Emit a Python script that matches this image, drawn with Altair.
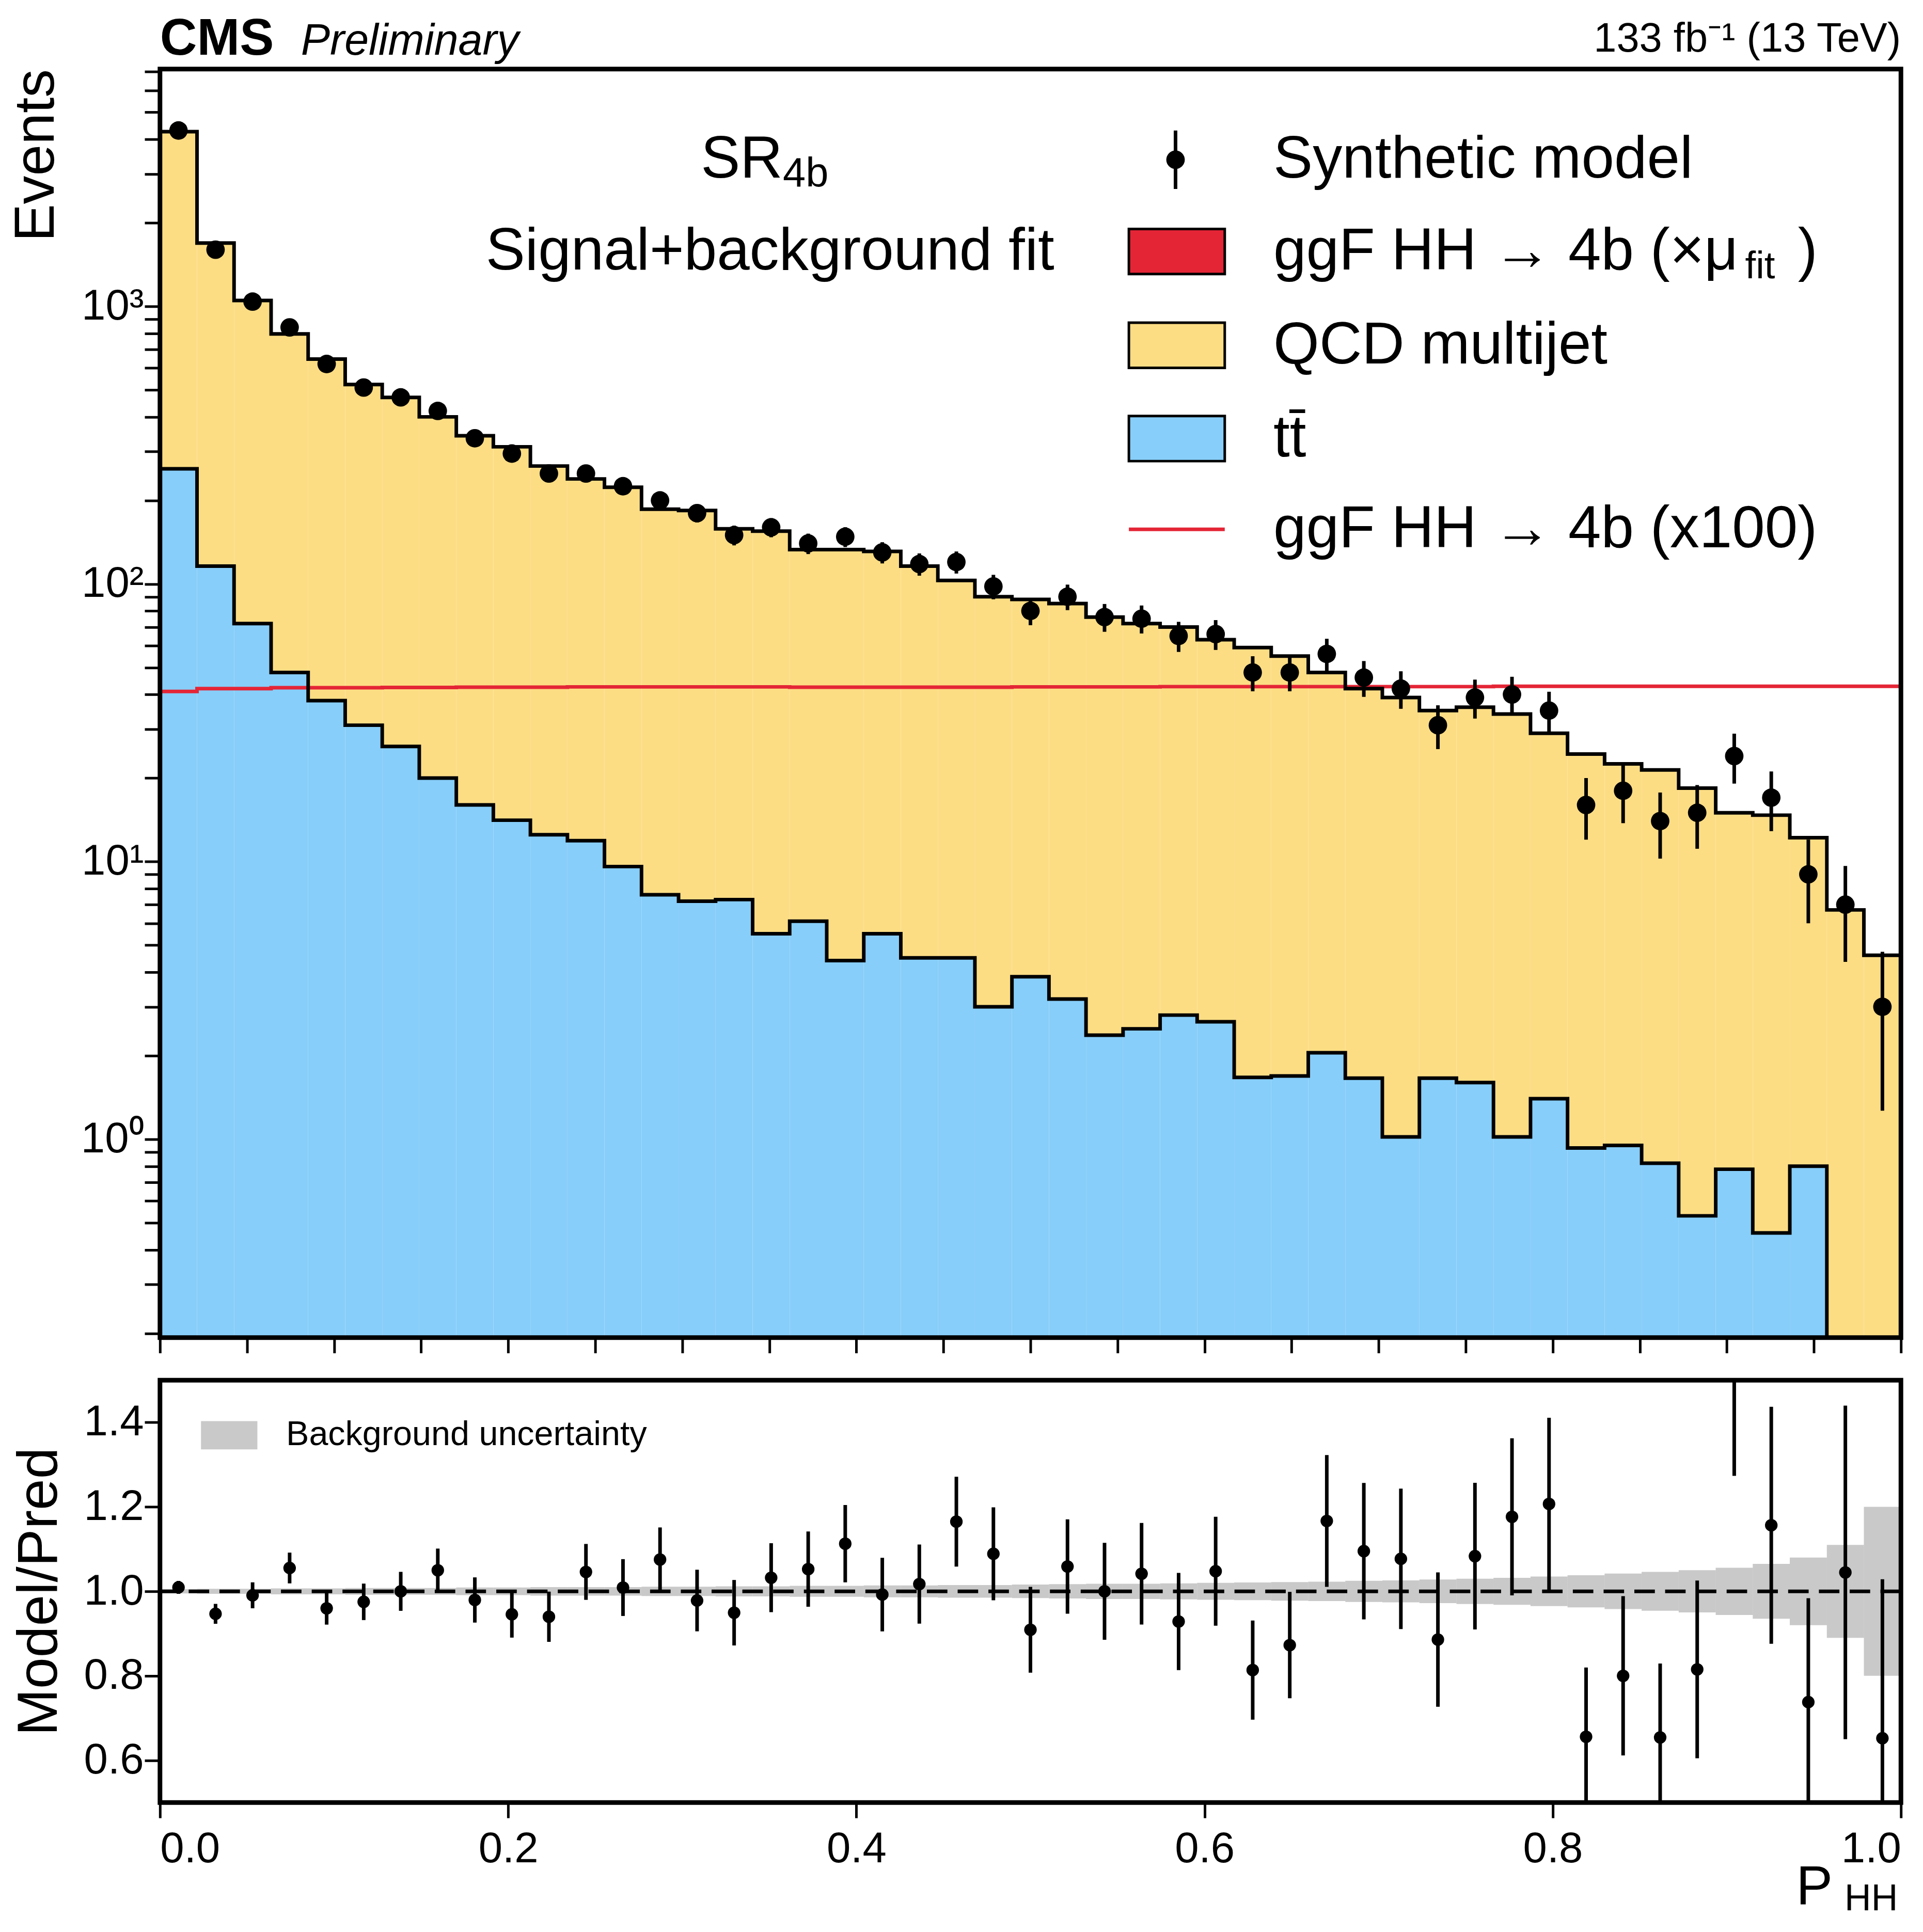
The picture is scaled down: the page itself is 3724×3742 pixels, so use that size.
import altair as alt
import numpy as np
import pandas as pd

FONT = "Liberation Sans"
NB = 47
edges = np.linspace(0, 1, NB + 1)

# values
data_obs = [4300, 1600, 1040, 840, 620, 510, 470, 420, 335, 295,
            250, 250, 225, 200, 180, 150, 160, 140, 148, 130,
            118, 120, 98, 80, 90, 76, 75, 65, 66, 48,
            48, 56, 46, 42, 31, 39, 40, 35, 16, 18,
            14, 15, 24, 17, 9, 7, 3]
total_bkg = [4260, 1690, 1050, 796, 646, 523, 470, 400, 342, 312,
             266, 239, 223, 186, 184, 158, 155, 133, 133, 131,
             116, 103, 90, 88, 85, 76, 72, 70, 63, 59,
             55, 48, 42, 39, 35, 36, 34, 29, 24.4, 22.5,
             21.4, 18.4, 15, 14.7, 12.2, 6.7, 4.6]
ttbar = [260, 116, 72, 48, 38, 31, 26, 20, 16, 14.1,
         12.5, 11.9, 9.6, 7.6, 7.2, 7.3, 5.5, 6.1, 4.4, 5.5,
         4.5, 4.5, 3.0, 3.85, 3.2, 2.37, 2.5, 2.8, 2.65, 1.67,
         1.69, 2.05, 1.66, 1.02, 1.66, 1.6, 1.02, 1.4, 0.93, 0.95,
         0.82, 0.53, 0.78, 0.46, 0.8, 0.15, 0.1]
sig100 = [41, 42, 42, 42.3, 42.3, 42.3, 42.4, 42.4, 42.5, 42.5,
          42.5, 42.6, 42.6, 42.6, 42.6, 42.6, 42.6, 42.5, 42.5, 42.5,
          42.5, 42.5, 42.5, 42.6, 42.6, 42.6, 42.6, 42.7, 42.7, 42.7,
          42.7, 42.7, 42.7, 42.7, 42.7, 42.7, 42.8, 42.8, 42.8, 42.8,
          42.8, 42.8, 42.8, 42.8, 42.8, 42.8, 42.8]
bkg_unc = [0.005, 0.006, 0.006, 0.007, 0.007, 0.008, 0.008, 0.008, 0.009, 0.009,
           0.01, 0.01, 0.01, 0.011, 0.011, 0.012, 0.012, 0.013, 0.013, 0.014,
           0.014, 0.015, 0.015, 0.016, 0.017, 0.018, 0.018, 0.019, 0.02, 0.021,
           0.022, 0.023, 0.025, 0.026, 0.028, 0.03, 0.032, 0.035, 0.038, 0.042,
           0.046, 0.05, 0.056, 0.065, 0.08, 0.11, 0.2]

YMIN, YMAX = 0.193, 7160
W, H1, H2 = 3396, 2475, 824
ax = dict(labelFont=FONT, titleFont=FONT, labelFontSize=84, tickColor="black",
          domain=False, grid=False, tickWidth=5, tickSize=30, labelColor="black",
          titleColor="black")

lo = edges[:-1]
hi = edges[1:]
ctr = (lo + hi) / 2
obs = np.array(data_obs, float)
tot = np.array(total_bkg, float)
df = pd.DataFrame(dict(lo=lo, hi=hi, c=ctr, data=obs, tot=tot, tt=ttbar,
                       floor=YMIN, elo=obs - np.sqrt(obs), ehi=obs + np.sqrt(obs),
                       r=obs / tot, rlo=(obs - np.sqrt(obs)) / tot,
                       rhi=(obs + np.sqrt(obs)) / tot,
                       ulo=1 - np.array(bkg_unc), uhi=1 + np.array(bkg_unc)))
step = pd.DataFrame(dict(x=list(edges), tot=total_bkg + [total_bkg[-1]],
                         tt=ttbar + [ttbar[-1]], sig=sig100 + [sig100[-1]]))

xs = alt.Scale(domain=[0, 1], nice=False)
ys = alt.Scale(type="log", domain=[YMIN, YMAX], nice=False)
sup = {1: "⁰", 10: "¹", 100: "²", 1000: "³"}
yvals = [m * 10 ** e for e in range(-1, 4) for m in range(1, 10) if YMIN <= m * 10 ** e <= YMAX]
lab = " : ".join(f"datum.value == {k} ? '10{v}'" for k, v in sup.items()) + " : ''"

base = alt.Chart(df)
xtop = alt.X("lo:Q", scale=xs, axis=alt.Axis(labels=False, title=None, values=list(np.arange(0, 1.01, 0.05)), **ax))
tt_rect = base.mark_rect(color="#87cefa", clip=True).encode(
    x=xtop, x2="hi:Q",
    y=alt.Y("floor:Q", scale=ys, axis=alt.Axis(values=yvals, labelExpr=lab, title="Events",
                                               titleFontSize=110, titleFontWeight="normal",
                                               titleAnchor="end", titlePadding=30, **ax)),
    y2="tt:Q")
qcd_rect = base.mark_rect(color="#fddd84", clip=True).encode(x="lo:Q", x2="hi:Q", y="tt:Q", y2="tot:Q")
sb = alt.Chart(step)
tot_line = sb.mark_line(interpolate="step-after", color="black", strokeWidth=7, clip=True).encode(x="x:Q", y="tot:Q")
tt_line = sb.mark_line(interpolate="step-after", color="black", strokeWidth=7, clip=True).encode(x="x:Q", y="tt:Q")
sig_line = sb.mark_line(interpolate="step-after", color="#e42536", strokeWidth=7, clip=True).encode(x="x:Q", y="sig:Q")
err = base.mark_rule(color="black", strokeWidth=7, clip=True).encode(x="c:Q", y="elo:Q", y2="ehi:Q")
pts = base.mark_circle(color="black", size=1300, opacity=1).encode(x="c:Q", y="data:Q")

def txt(t, x, y, size=115, align="left", **kw):
    return alt.Chart(pd.DataFrame({"t": [t]})).mark_text(
        font=FONT, fontSize=size, align=align, baseline="middle", color="black", **kw
    ).encode(text="t:N", x=alt.value(x), y=alt.value(y))

def frame(h):
    return alt.Chart(pd.DataFrame({"a": [0]})).mark_rect(
        fillOpacity=0, stroke="black", strokeWidth=9).encode(
        x=alt.value(0), x2=alt.value(W), y=alt.value(0), y2=alt.value(h))

leg = pd.DataFrame(dict(y=[356, 539, 721], c=["#e42536", "#fddd84", "#87cefa"]))
leg_boxes = alt.Chart(leg).mark_rect(stroke="black", strokeWidth=5).encode(
    x=alt.value(1890), x2=alt.value(2077), y=alt.Y("y:Q", scale=None),
    y2=alt.Y2("y2:Q"), color=alt.Color("c:N", scale=None)).transform_calculate(
    y2="datum.y + 44").transform_calculate(y="datum.y - 44")
leg_pt = alt.Chart(pd.DataFrame({"a": [0]})).mark_circle(color="black", size=1300, opacity=1).encode(
    x=alt.value(1981), y=alt.value(177))
leg_err = alt.Chart(pd.DataFrame({"a": [0]})).mark_rule(color="black", strokeWidth=7).encode(
    x=alt.value(1981), y=alt.value(120), y2=alt.value(234))
leg_line = alt.Chart(pd.DataFrame({"a": [0]})).mark_rule(color="#e42536", strokeWidth=7).encode(
    x=alt.value(1890), x2=alt.value(2077), y=alt.value(898))

top = alt.layer(
    tt_rect, qcd_rect, sig_line, tot_line, tt_line, err, pts,
    leg_boxes, leg_pt, leg_err, leg_line, frame(H1),
    txt("Synthetic model", 2172, 177),
    txt("ggF HH → 4b (×μ", 2172, 356),
    txt("fit", 3092, 385, size=75),
    txt(")", 3195, 356),
    txt("QCD multijet", 2172, 539),
    txt("tt̄", 2172, 721),
    txt("ggF HH → 4b (x100)", 2172, 898),
    txt("SR", 1055, 177),
    txt("4b", 1215, 205, size=80),
    txt("Signal+background fit", 1190, 356, align="center"),
    txt("CMS", 0, -58, size=100, fontWeight="bold"),
    txt("Preliminary", 275, -54, size=85, fontStyle="italic"),
    txt("133 fb⁻¹ (13 TeV)", W, -58, size=80, align="right"),
).properties(width=W, height=H1)

rs = alt.Scale(domain=[0.5, 1.5], nice=False)
rb = alt.Chart(df)
band = rb.mark_rect(color="#888888", opacity=0.45).encode(
    x=alt.X("lo:Q", scale=xs, axis=alt.Axis(values=[0, 0.2, 0.4, 0.6, 0.8, 1.0], format=".1f",
                                             title=None, labelPadding=20, **ax)),
    x2="hi:Q",
    y=alt.Y("ulo:Q", scale=rs, axis=alt.Axis(values=[0.6, 0.8, 1.0, 1.2, 1.4], format=".1f",
                                              title="Model/Pred", titleFontSize=110,
                                              titleFontWeight="normal", titlePadding=30, **ax)),
    y2="uhi:Q")
one = alt.Chart(pd.DataFrame({"y": [1.0]})).mark_rule(color="black", strokeWidth=7, strokeDash=[40, 20]).encode(y="y:Q")
rerr = rb.mark_rule(color="black", strokeWidth=7, clip=True).encode(x="c:Q", y="rlo:Q", y2="rhi:Q")
rpts = rb.mark_circle(color="black", size=600, opacity=1, clip=True).encode(x="c:Q", y="r:Q")
hatch_leg = alt.Chart(pd.DataFrame({"a": [0]})).mark_rect(color="#888888", opacity=0.45).encode(
    x=alt.value(80), x2=alt.value(190), y=alt.value(80), y2=alt.value(135))

bottom = alt.layer(
    band, one, rerr, rpts, hatch_leg, frame(H2),
    txt("Background uncertainty", 246, 107, size=67),
    txt("P", 3263, 990, size=107, align="right"),
    txt("HH", 3390, 1012, size=72, align="right"),
).properties(width=W, height=H2)

chart = alt.vconcat(top, bottom, spacing=45).properties(
    padding={"left": 8, "top": 4, "right": 30, "bottom": 10}
).configure_view(stroke=None).configure(background="white")
chart.save("out.html", embed_options={"renderer": "svg", "actions": False})
